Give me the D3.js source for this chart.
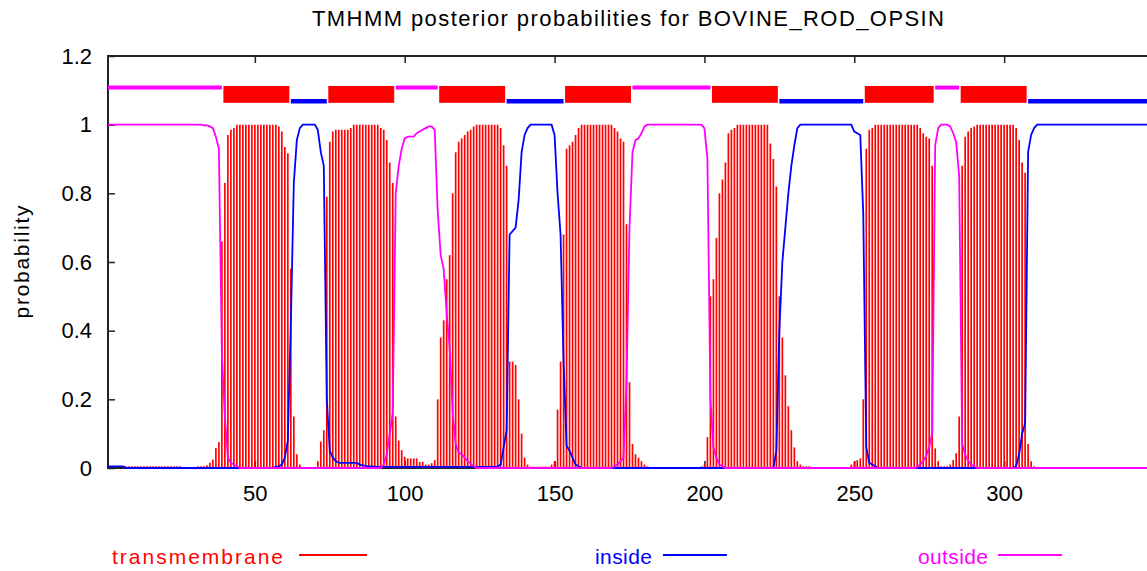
<!DOCTYPE html>
<html>
<head>
<meta charset="utf-8">
<script src="https://cdn.jsdelivr.net/npm/d3@7"></script>
<style>
  body { margin: 0; background: #fff; }
  text { font-family: "Liberation Sans", Arial, sans-serif; }
</style>
</head>
<body>
<script>
var W = 1147, H = 571;

var title = "TMHMM posterior probabilities for BOVINE_ROD_OPSIN";
var yLabel = "probability";
var seqLength = 348;
var yTicks = [0, 0.2, 0.4, 0.6, 0.8, 1, 1.2];
var xTicks = [50, 100, 150, 200, 250, 300];
var legendNames = ["transmembrane", "inside", "outside"];

// posterior probability per residue (1..348)
var transmembrane = [
  0, 0, 0, 0, 0, 0, .005, .005, .005, .005,
  .005, .005, .005, .005, .005, .005, .005, .005, .005, .005,
  .005, .005, .005, .005, .005, 0, 0, 0, 0, 0,
  .005, .005, .005, .008, .015, .025, .058, .076, .66, .83,
  .97, .985, .99, 1, 1, 1, 1, 1, 1, 1,
  1, 1, 1, 1, 1, 1, 1, .995, .98, .935,
  .917, .58, .15, .04, .01, .003, .003, .003, .003, .003,
  .02, .077, .11, .79, .95, .98, .985, .985, .985, .985,
  .985, .99, 1, 1, 1, 1, 1, 1, 1, 1,
  1, .99, .985, .955, .89, .83, .15, .08, .052, .033,
  .028, .028, .028, .028, .018, .018, .01, .01, .014, .023,
  .2, .38, .43, .55, .62, .8, .92, .95, .96, .97,
  .98, .985, .995, 1, 1, 1, 1, 1, 1, 1,
  1, .99, .94, .88, .31, .31, .30, .2, .1, .03,
  .01, .004, .004, .004, .004, .004, .004, .004, .01, .02,
  .17, .31, .68, .93, .94, .95, .97, .99, 1, 1,
  1, 1, 1, 1, 1, 1, 1, 1, 1, .99,
  .98, .96, .95, .71, .25, .07, .04, .03, .02, .01,
  .005, 0, 0, 0, 0, 0, 0, 0, 0, 0,
  0, 0, 0, 0, 0, 0, 0, 0, .005, .01,
  .09, .5, .55, .67, .8, .84, .89, .975, .985, .99,
  1, 1, 1, 1, 1, 1, 1, 1, 1, 1,
  1, .945, .9, .82, .5, .38, .27, .18, .11, .06,
  .02, .01, .005, .005, .005, 0, 0, 0, 0, 0,
  0, 0, 0, 0, 0, 0, 0, 0, .01, .018,
  .023, .028, .2, .93, .985, .99, 1, 1, 1, 1,
  1, 1, 1, 1, 1, 1, 1, 1, 1, 1,
  1, .99, .975, .965, .96, .88, .057, .02, .005, .005,
  .005, .01, .023, .043, .15, .88, .965, .98, .99, .995,
  1, 1, 1, 1, 1, 1, 1, 1, 1, 1,
  1, 1, 1, .99, .955, .89, .86, .07, .02, .005,
  .003, .003, .003, .003, .003, .003, .003, .003, 0, 0,
  0, 0, 0, 0, 0, 0, 0, 0, 0, 0,
  0, 0, 0, 0, 0, 0, 0, 0, 0, 0,
  0, 0, 0, 0, 0, 0, 0, 0
];

var inside = [
  .005, .005, .005, .005, .005, .005, 0, 0, 0, 0,
  0, 0, 0, 0, 0, 0, 0, 0, 0, 0,
  0, 0, 0, 0, 0, 0, 0, 0, 0, 0,
  0, 0, 0, 0, 0, 0, 0, 0, 0, 0,
  0, 0, 0, 0, 0, 0, 0, 0, 0, 0,
  0, 0, 0, 0, 0, 0, .003, .005, .01, .03,
  .08, .42, .83, .955, .99, 1, 1, 1, 1, 1,
  .985, .92, .88, .2, .05, .03, .02, .015, .015, .015,
  .015, .015, .015, .015, .01, .008, .006, .005, .005, .004,
  .003, .003, .003, .003, .003, .003, .003, .003, .003, .003,
  .003, .003, .003, .003, .003, .003, .003, .003, .003, .003,
  .003, .003, .003, .003, .003, .003, .003, .003, .003, .003,
  .003, .003, .003, .003, .003, .003, .003, .003, .003, .003,
  .005, .01, .06, .11, .68, .69, .70, .78, .92, .97,
  .99, 1, 1, 1, 1, 1, 1, 1, 1, .97,
  .8, .68, .31, .065, .05, .03, .01, .005, 0, 0,
  0, 0, 0, 0, 0, 0, 0, 0, 0, 0,
  0, 0, 0, 0, 0, 0, 0, 0, 0, 0,
  0, 0, 0, 0, 0, 0, 0, 0, 0, 0,
  0, 0, 0, 0, 0, 0, 0, 0, 0, 0,
  0, 0, 0, 0, 0, 0, 0, 0, 0, 0,
  0, 0, 0, 0, 0, 0, 0, 0, 0, 0,
  0, 0, 0, .05, .4, .6, .7, .8, .88, .94,
  .99, 1, 1, 1, 1, 1, 1, 1, 1, 1,
  1, 1, 1, 1, 1, 1, 1, 1, 1, .98,
  .975, .97, .74, .06, .015, .01, .005, 0, 0, 0,
  0, 0, 0, 0, 0, 0, 0, 0, 0, 0,
  0, 0, 0, 0, 0, 0, 0, 0, 0, 0,
  0, 0, 0, 0, 0, 0, 0, 0, 0, 0,
  0, 0, 0, 0, 0, 0, 0, 0, 0, 0,
  0, 0, 0, .005, .04, .1, .13, .92, .97, .99,
  1, 1, 1, 1, 1, 1, 1, 1, 1, 1,
  1, 1, 1, 1, 1, 1, 1, 1, 1, 1,
  1, 1, 1, 1, 1, 1, 1, 1, 1, 1,
  1, 1, 1, 1, 1, 1, 1, 1
];

var outside = [
  1, 1, 1, 1, 1, 1, 1, 1, 1, 1,
  1, 1, 1, 1, 1, 1, 1, 1, 1, 1,
  1, 1, 1, 1, 1, 1, 1, 1, 1, 1,
  1, 1, .998, .998, .995, .99, .965, .93, .33, .15,
  .03, .015, .01, .005, 0, 0, 0, 0, 0, 0,
  0, 0, 0, 0, 0, 0, 0, 0, 0, 0,
  0, 0, 0, 0, 0, 0, 0, 0, 0, 0,
  0, 0, 0, 0, 0, 0, 0, 0, 0, 0,
  0, 0, 0, 0, 0, 0, 0, 0, 0, 0,
  0, 0, .01, .04, .1, .16, .8, .88, .93, .96,
  .965, .965, .965, .975, .98, .985, .99, .995, .995, .985,
  .75, .62, .58, .45, .35, .16, .07, .045, .04, .03,
  .02, .012, .005, 0, 0, 0, 0, 0, 0, 0,
  0, 0, 0, 0, 0, 0, 0, 0, 0, 0,
  0, 0, 0, 0, 0, 0, 0, 0, 0, 0,
  0, 0, 0, 0, 0, 0, 0, 0, 0, 0,
  0, 0, 0, 0, 0, 0, 0, 0, 0, .005,
  .01, .02, .03, .25, .7, .92, .955, .96, .975, .995,
  1, 1, 1, 1, 1, 1, 1, 1, 1, 1,
  1, 1, 1, 1, 1, 1, 1, 1, 1, .99,
  .9, .2, .06, .03, .01, .005, 0, 0, 0, 0,
  0, 0, 0, 0, 0, 0, 0, 0, 0, 0,
  0, 0, 0, 0, 0, 0, 0, 0, 0, 0,
  0, 0, 0, 0, 0, 0, 0, 0, 0, 0,
  0, 0, 0, 0, 0, 0, 0, 0, 0, 0,
  0, 0, 0, 0, 0, 0, 0, 0, 0, 0,
  0, 0, 0, 0, 0, 0, 0, 0, 0, 0,
  .003, .01, .02, .035, .06, .1, .94, .99, 1, 1,
  1, .995, .975, .95, .85, .07, .04, .02, .01, .005,
  0, 0, 0, 0, 0, 0, 0, 0, 0, 0,
  0, 0, 0, 0, 0, 0, 0, 0, 0, 0,
  0, 0, 0, 0, 0, 0, 0, 0, 0, 0,
  0, 0, 0, 0, 0, 0, 0, 0, 0, 0,
  0, 0, 0, 0, 0, 0, 0, 0, 0, 0,
  0, 0, 0, 0, 0, 0, 0, 0
];

// predicted topology: [kind, first residue, last residue]
var topology = [
  ["outside", 1, 39], ["tm", 40, 61], ["inside", 62, 74], ["tm", 75, 96],
  ["outside", 97, 111], ["tm", 112, 133], ["inside", 134, 153], ["tm", 154, 175],
  ["outside", 176, 202], ["tm", 203, 224], ["inside", 225, 253], ["tm", 254, 276],
  ["outside", 277, 285], ["tm", 286, 307], ["inside", 308, 348]
];

var colors = {tm: "#ff0000", inside: "#0000ff", outside: "#ff00ff"};

var x = d3.scaleLinear().domain([1, seqLength]).range([108, 1148]);
var y = d3.scaleLinear().domain([0, 1.2]).range([468, 56]);

var svg = d3.select("body")
  .append("svg")
  .attr("width", W)
  .attr("height", H);

// title
svg.append("text")
  .attr("x", 312)
  .attr("y", 26)
  .attr("font-size", 22)
  .attr("textLength", 632)
  .attr("lengthAdjust", "spacing")
  .text(title);

// y axis label
svg.append("text")
  .attr("transform", "translate(29,262) rotate(-90)")
  .attr("text-anchor", "middle")
  .attr("font-size", 21)
  .attr("textLength", 113)
  .attr("lengthAdjust", "spacing")
  .text(yLabel);

// frame (left, top, bottom; right side is off the page)
svg.append("path")
  .attr("d", "M" + x.range()[1] + "," + y(1.2) + " H" + x.range()[0] + " V" + y(0) + " H" + x.range()[1])
  .attr("fill", "none")
  .attr("stroke", "#222")
  .attr("stroke-width", 2);

function styleAxis(g) {
  g.select(".domain").remove();
  g.selectAll("line").attr("stroke", "#222").attr("stroke-width", 1.5);
  g.selectAll("text").attr("font-size", 22).attr("fill", "#000")
    .attr("font-family", "'Liberation Sans', Arial, sans-serif");
}

svg.append("g")
  .attr("transform", "translate(" + x.range()[0] + ",0)")
  .call(d3.axisLeft(y).tickValues(yTicks).tickSize(-7).tickPadding(16).tickFormat(d3.format("~g")))
  .call(styleAxis);

svg.append("g")
  .attr("transform", "translate(0," + y(0) + ")")
  .call(d3.axisBottom(x).tickValues(xTicks).tickSize(-7).tickPadding(17))
  .call(styleAxis);

svg.append("g")
  .attr("transform", "translate(0," + y(1.2) + ")")
  .call(d3.axisTop(x).tickValues(xTicks).tickSize(-7).tickFormat(""))
  .call(styleAxis);

// transmembrane impulses
svg.append("g")
  .selectAll("line")
  .data(transmembrane)
  .enter()
  .append("line")
  .attr("x1", (d,i) => x(i+1))
  .attr("x2", (d,i) => x(i+1))
  .attr("y1", y(0))
  .attr("y2", d => y(d))
  .attr("stroke", colors.tm)
  .attr("stroke-width", 1.7);

var line = d3.line()
  .x((d,i) => x(i+1))
  .y(d => y(d));

svg.append("path")
  .attr("d", line(inside))
  .attr("fill", "none")
  .attr("stroke", colors.inside)
  .attr("stroke-width", 1.8);

svg.append("path")
  .attr("d", line(outside))
  .attr("fill", "none")
  .attr("stroke", colors.outside)
  .attr("stroke-width", 1.8);

// topology bar above the curves
var topo = svg.append("g");
topo.selectAll("rect")
  .data(topology.filter(d => d[0] == "tm"))
  .enter()
  .append("rect")
  .attr("x", d => x(d[1] - 0.5))
  .attr("width", d => x(d[2] + 0.5) - x(d[1] - 0.5))
  .attr("y", y(1.1127))
  .attr("height", y(1.0636) - y(1.1127))
  .attr("fill", colors.tm);

topo.selectAll("line")
  .data(topology.filter(d => d[0] != "tm"))
  .enter()
  .append("line")
  .attr("x1", d => Math.max(x(d[1] - 0.5) + 1.5, x.range()[0]))
  .attr("x2", d => x(d[2] + 0.5) - 1.5)
  .attr("y1", d => d[0] == "outside" ? y(1.108) : y(1.068))
  .attr("y2", d => d[0] == "outside" ? y(1.108) : y(1.068))
  .attr("stroke", d => colors[d[0]])
  .attr("stroke-width", d => d[0] == "outside" ? 4 : 4.5);

// legend
var legendText = [112, 595, 918];
var legendWidth = [171, 57, 70];
var legendLine = [[299, 367], [663, 727], [998, 1062]];
var legendColor = [colors.tm, colors.inside, colors.outside];

var leg = svg.append("g")
  .selectAll("g")
  .data(legendNames)
  .enter()
  .append("g");

leg.append("text")
  .attr("x", (d,i) => legendText[i])
  .attr("y", 564)
  .attr("font-size", 21)
  .attr("textLength", (d,i) => legendWidth[i])
  .attr("lengthAdjust", "spacing")
  .attr("fill", (d,i) => legendColor[i])
  .text(d => d);

leg.append("line")
  .attr("x1", (d,i) => legendLine[i][0])
  .attr("x2", (d,i) => legendLine[i][1])
  .attr("y1", 555)
  .attr("y2", 555)
  .attr("stroke", (d,i) => legendColor[i])
  .attr("stroke-width", 1.8);
</script>
</body>
</html>
